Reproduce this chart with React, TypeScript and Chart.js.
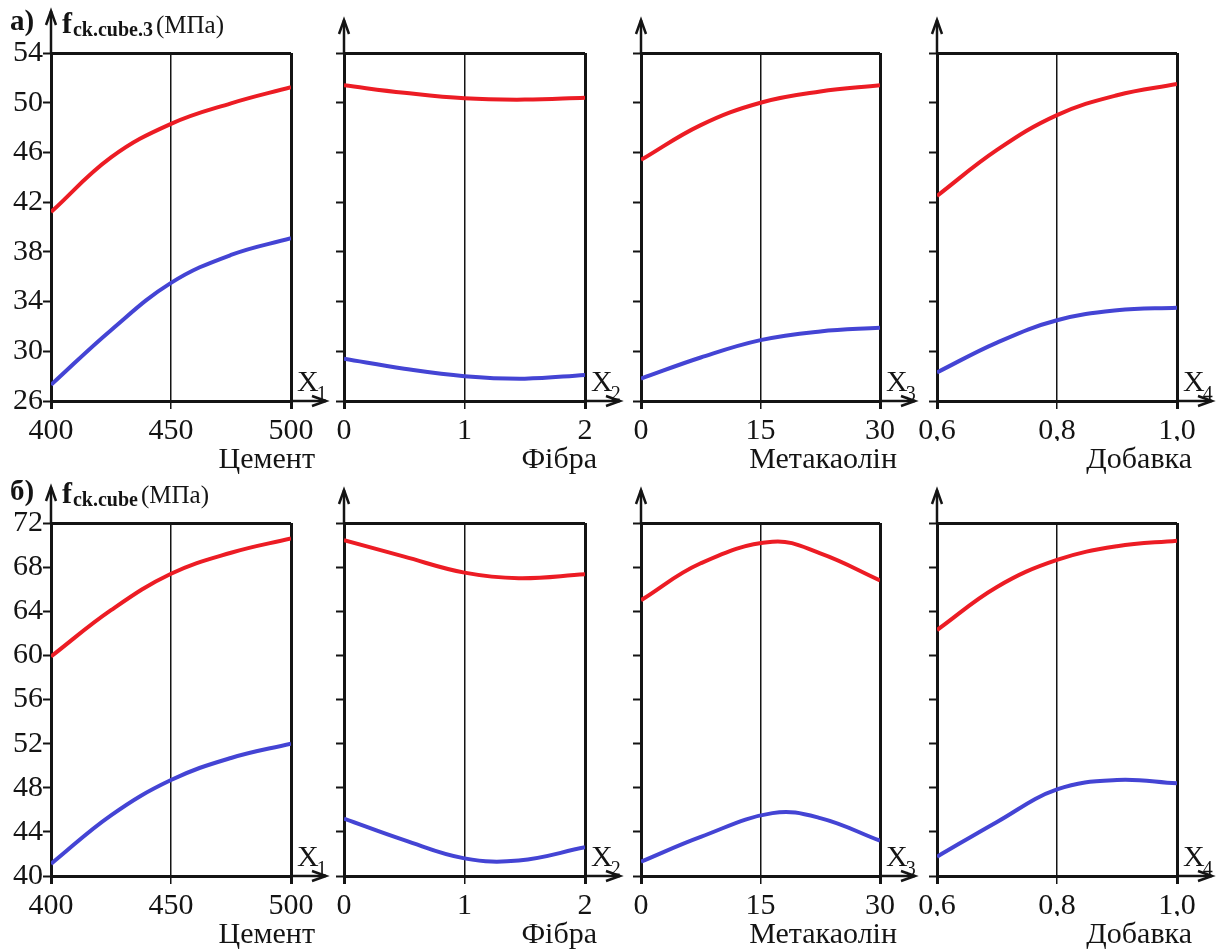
import React, { useEffect, useRef } from 'react';
import { Chart, registerables } from 'chart.js';

Chart.register(...registerables);

const FONT = '"Liberation Serif", "Times New Roman", serif';
const RED = '#ec1c24';
const BLUE = '#4444d4';
const INK = '#141414';

// ---- tick labels ----
const cementTicks = [400, 450, 500];
const cementTickLabels = ['400', '450', '500'];
const fibreTicks = [0, 1, 2];
const fibreTickLabels = ['0', '1', '2'];
const metaTicks = [0, 15, 30];
const metaTickLabels = ['0', '15', '30'];
const addTicks = [0.6, 0.8, 1.0];
const addTickLabels = ['0,6', '0,8', '1,0'];

const topYTicks = [26, 30, 34, 38, 42, 46, 50, 54];
const topYLabels = ['26', '30', '34', '38', '42', '46', '50', '54'];
const bottomYTicks = [40, 44, 48, 52, 56, 60, 64, 68, 72];
const bottomYLabels = ['40', '44', '48', '52', '56', '60', '64', '68', '72'];

// ---- series (а) f_ck.cube.3 ----
const aCementX = [400, 425, 450, 475, 500];
const aCementRed = [41.2, 45.6, 48.3, 49.95, 51.25];
const aCementBlue = [27.3, 31.7, 35.5, 37.75, 39.1];
const aFibreX = [0, 0.5, 1, 1.5, 2];
const aFibreRed = [51.4, 50.8, 50.35, 50.25, 50.4];
const aFibreBlue = [29.4, 28.6, 28.0, 27.8, 28.1];
const aMetaX = [0, 7.5, 15, 22.5, 30];
const aMetaRed = [45.4, 48.2, 50.0, 50.9, 51.4];
const aMetaBlue = [27.8, 29.5, 30.9, 31.6, 31.9];
const aAddX = [0.6, 0.7, 0.8, 0.9, 1.0];
const aAddRed = [42.5, 46.2, 49.0, 50.6, 51.5];
const aAddBlue = [28.3, 30.7, 32.5, 33.3, 33.5];

// ---- series (б) f_ck.cube ----
const bCementX = [400, 425, 450, 475, 500];
const bCementRed = [59.9, 64.1, 67.4, 69.3, 70.6];
const bCementBlue = [41.1, 45.5, 48.7, 50.7, 52.0];
const bFibreX = [0, 0.5, 1, 1.45, 2];
const bFibreRed = [70.45, 68.95, 67.5, 67.0, 67.35];
const bFibreBlue = [45.2, 43.25, 41.6, 41.4, 42.6];
const bMetaX = [0, 7.5, 16.5, 22.5, 30];
const bMetaRed = [65.0, 68.35, 70.3, 69.25, 66.8];
const bMetaBlue = [41.3, 43.55, 45.7, 45.25, 43.2];
const bAddX = [0.6, 0.7, 0.8, 0.9, 1.0];
const bAddRed = [62.3, 66.2, 68.65, 69.9, 70.4];
const bAddBlue = [41.75, 44.9, 47.85, 48.7, 48.4];

const xNames = ['Цемент', 'Фібра', 'Метакаолін', 'Добавка'];
const xVars = ['1', '2', '3', '4'];
const rowLetters = ['а)', 'б)'];
const rowSubs = ['ck.cube.3', 'ck.cube'];
const unitText = '(МПа)';

// ---- layout geometry ----
const PLOT_LEFT = [51, 344, 641, 937];
const PLOT_RIGHT = [291, 585, 880, 1177];
const ROW_CANVAS_TOP = [0, 480];
const ROW_CANVAS_H = [480, 469];
const ROW_PLOT_TOP = [53, 523];
const ROW_PLOT_BOTTOM = [401, 876];
const TITLE_END = [24, 12, 17, 15];
const X_AXIS_H = 40;
const Y_AXIS_W = 51;
const PAD_RIGHT = 45;

type PanelDef = {
  row: number;
  col: number;
  xs: number[];
  red: number[];
  blue: number[];
  xTicks: number[];
  xLabels: string[];
};

const xTickSets = [
  [cementTicks, cementTickLabels],
  [fibreTicks, fibreTickLabels],
  [metaTicks, metaTickLabels],
  [addTicks, addTickLabels],
];

const panels: PanelDef[] = [
  { row: 0, col: 0, xs: aCementX, red: aCementRed, blue: aCementBlue },
  { row: 0, col: 1, xs: aFibreX, red: aFibreRed, blue: aFibreBlue },
  { row: 0, col: 2, xs: aMetaX, red: aMetaRed, blue: aMetaBlue },
  { row: 0, col: 3, xs: aAddX, red: aAddRed, blue: aAddBlue },
  { row: 1, col: 0, xs: bCementX, red: bCementRed, blue: bCementBlue },
  { row: 1, col: 1, xs: bFibreX, red: bFibreRed, blue: bFibreBlue },
  { row: 1, col: 2, xs: bMetaX, red: bMetaRed, blue: bMetaBlue },
  { row: 1, col: 3, xs: bAddX, red: bAddRed, blue: bAddBlue },
].map((p) => ({
  ...p,
  xTicks: xTickSets[p.col][0] as number[],
  xLabels: xTickSets[p.col][1] as string[],
}));

function arrowHead(ctx: CanvasRenderingContext2D, x: number, y: number, dir: 'up' | 'right') {
  ctx.beginPath();
  if (dir === 'up') {
    ctx.moveTo(x - 5, y + 14);
    ctx.lineTo(x, y);
    ctx.lineTo(x + 5, y + 14);
  } else {
    ctx.moveTo(x - 14, y - 5);
    ctx.lineTo(x, y);
    ctx.lineTo(x - 14, y + 5);
  }
  ctx.stroke();
}

function Panel({ p }: { p: PanelDef }) {
  const ref = useRef<HTMLCanvasElement | null>(null);
  const canvasLeft = PLOT_LEFT[p.col] - Y_AXIS_W;
  const canvasW = PLOT_RIGHT[p.col] + PAD_RIGHT - canvasLeft;
  const canvasTop = ROW_CANVAS_TOP[p.row];
  const canvasH = ROW_CANVAS_H[p.row];
  const padTop = ROW_PLOT_TOP[p.row] - canvasTop;
  const padBottom = canvasTop + canvasH - ROW_PLOT_BOTTOM[p.row] - X_AXIS_H;

  useEffect(() => {
    if (!ref.current) return;
    const yTicks = p.row === 0 ? topYTicks : bottomYTicks;
    const yLabels = p.row === 0 ? topYLabels : bottomYLabels;
    const yMin = yTicks[0];
    const yMax = yTicks[yTicks.length - 1];
    const xMin = p.xTicks[0];
    const xMax = p.xTicks[p.xTicks.length - 1];

    const decor = {
      id: 'decor',
      afterDraw(chart: any) {
        const ctx: CanvasRenderingContext2D = chart.ctx;
        const a = chart.chartArea;
        ctx.save();
        ctx.strokeStyle = INK;
        ctx.fillStyle = INK;
        ctx.lineWidth = 2.5;
        ctx.lineCap = 'butt';
        ctx.lineJoin = 'miter';
        // y axis extension with arrow
        const up = p.col === 0 ? (p.row === 0 ? 42 : 36) : 33;
        ctx.beginPath();
        ctx.moveTo(a.left, a.top);
        ctx.lineTo(a.left, a.top - up);
        ctx.stroke();
        arrowHead(ctx, a.left, a.top - up, 'up');
        // x axis extension with arrow
        ctx.beginPath();
        ctx.moveTo(a.right, a.bottom);
        ctx.lineTo(a.right + 35, a.bottom);
        ctx.stroke();
        arrowHead(ctx, a.right + 35, a.bottom, 'right');
        // X_i label
        ctx.textBaseline = 'alphabetic';
        ctx.textAlign = 'left';
        ctx.font = `30px ${FONT}`;
        const xl = a.right + 6;
        ctx.fillText('X', xl, a.bottom - 10);
        const wX = ctx.measureText('X').width;
        ctx.font = `20px ${FONT}`;
        ctx.fillText(xVars[p.col], xl + wX - 2, a.bottom - 1);
        // axis name
        ctx.font = `30px ${FONT}`;
        ctx.textAlign = 'right';
        ctx.fillText(xNames[p.col], a.right + TITLE_END[p.col], a.bottom + 67);
        // row title
        if (p.col === 0) {
          const base = a.top - 20;
          ctx.textAlign = 'left';
          ctx.font = `bold 29px ${FONT}`;
          ctx.fillText(rowLetters[p.row], 10, base - 3);
          ctx.font = `bold 30px ${FONT}`;
          ctx.fillText('f', 62, base);
          let x = 62 + ctx.measureText('f').width + 1;
          ctx.font = `bold 20px ${FONT}`;
          ctx.fillText(rowSubs[p.row], x, base + 3);
          x += ctx.measureText(rowSubs[p.row]).width + 3;
          ctx.font = `25px ${FONT}`;
          ctx.fillText(unitText, x, base);
        }
        ctx.restore();
      },
    };

    const lineStyle = {
      borderWidth: 4,
      pointRadius: 0,
      fill: false,
      tension: 0.4,
      cubicInterpolationMode: 'default',
    };

    const chart = new Chart(ref.current, {
      type: 'line',
      data: {
        datasets: [
          { ...lineStyle, data: p.xs.map((x, i) => ({ x, y: p.red[i] })), borderColor: RED },
          { ...lineStyle, data: p.xs.map((x, i) => ({ x, y: p.blue[i] })), borderColor: BLUE },
        ],
      },
      options: {
        responsive: false,
        animation: false,
        devicePixelRatio: 1,
        layout: { padding: { left: 0, top: padTop, right: PAD_RIGHT, bottom: padBottom } },
        plugins: { legend: { display: false }, tooltip: { enabled: false } },
        scales: {
          x: {
            type: 'linear',
            min: xMin,
            max: xMax,
            afterBuildTicks: (s: any) => {
              s.ticks = p.xTicks.map((v) => ({ value: v }));
            },
            afterFit: (s: any) => {
              s.height = X_AXIS_H;
            },
            ticks: {
              callback: (_v: any, i: number) => p.xLabels[i],
              font: { family: FONT, size: 30 },
              color: INK,
              padding: 4,
              maxRotation: 0,
              autoSkip: false,
            },
            grid: {
              color: INK,
              lineWidth: (c: any) => (c.index === 1 ? 1.5 : 3),
              tickLength: 8,
            },
            border: { display: true, color: INK, width: 3 },
          },
          y: {
            type: 'linear',
            min: yMin,
            max: yMax,
            afterBuildTicks: (s: any) => {
              s.ticks = yTicks.map((v) => ({ value: v }));
            },
            afterFit: (s: any) => {
              s.width = Y_AXIS_W;
            },
            ticks: {
              display: p.col === 0,
              callback: (_v: any, i: number) => yLabels[i],
              font: { family: FONT, size: 30 },
              color: INK,
              padding: 0,
            },
            grid: {
              color: (c: any) => (c.tick && c.tick.value === yMax ? INK : 'rgba(0,0,0,0)'),
              tickColor: INK,
              lineWidth: 3,
              tickWidth: 2,
              tickLength: 8,
            },
            border: { display: true, color: INK, width: 3 },
          },
        },
      } as any,
      plugins: [decor],
    });
    return () => chart.destroy();
  }, []);

  return (
    <canvas
      ref={ref}
      width={canvasW}
      height={canvasH}
      style={{ position: 'absolute', left: canvasLeft, top: canvasTop, width: canvasW, height: canvasH }}
    />
  );
}

export default function App() {
  return (
    <div
      style={{
        position: 'fixed',
        left: 0,
        top: 0,
        width: 1222,
        height: 949,
        background: '#fff',
        overflow: 'hidden',
      }}
    >
      {panels.map((p, i) => (
        <Panel key={i} p={p} />
      ))}
    </div>
  );
}
